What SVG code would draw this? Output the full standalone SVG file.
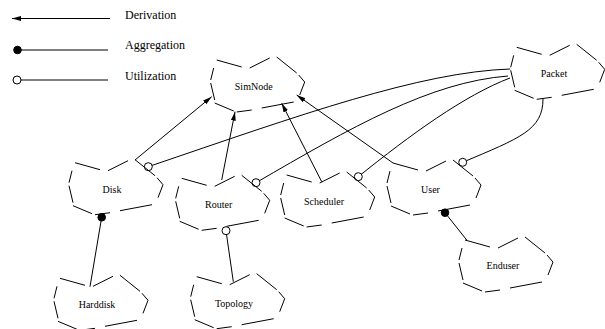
<svg xmlns="http://www.w3.org/2000/svg" width="605" height="329" viewBox="0 0 605 329">
<style>
.cloud{fill:none;stroke:#000;stroke-width:1}
.edge{fill:none;stroke:#000;stroke-width:1}
.open{fill:#fff;stroke:#000;stroke-width:1}
.dot{fill:#000;stroke:#000;stroke-width:1}
.lbl{font-family:"Liberation Serif","Times New Roman",serif;font-size:10px;text-anchor:middle;fill:#000}
.leg{font-family:"Liberation Serif","Times New Roman",serif;font-size:12px;fill:#000}
</style>
<defs>
<path id="cloud" class="cloud" d="M0,0 L25,7 M33,8 L53,-2 M60,-3 L80,13 M82,15 L88,22 L83,35 M77,42 L45,48 M35,50 L20,52 M17,51 L-2,43 M-3,8 L-6,20 M-6,23 L-2,40"/>
<marker id="arr" markerUnits="userSpaceOnUse" markerWidth="10" markerHeight="6" refX="9" refY="2.5" orient="auto">
<path d="M0,0 L9,2.5 L0,5 z" fill="#000"/>
</marker>
</defs>
<g id="legend">
<line class="edge" x1="110" y1="18.5" x2="12" y2="18.5" marker-end="url(#arr)"/>
<text class="leg" x="125" y="19">Derivation</text>
<line class="edge" x1="17" y1="50" x2="108" y2="50"/>
<circle class="dot" cx="17.5" cy="50" r="3.8"/>
<text class="leg" x="125" y="49">Aggregation</text>
<line class="edge" x1="17" y1="80" x2="108" y2="80"/>
<circle class="open" cx="17" cy="80" r="4"/>
<text class="leg" x="125" y="80">Utilization</text>
</g>
<g id="connectors">
<line class="edge" x1="135" y1="160" x2="211.7" y2="96.7" marker-end="url(#arr)"/>
<line class="edge" x1="221.7" y1="180" x2="235" y2="111.7" marker-end="url(#arr)"/>
<line class="edge" x1="321.7" y1="181.7" x2="281.7" y2="103.3" marker-end="url(#arr)"/>
<line class="edge" x1="393" y1="163" x2="296.7" y2="95" marker-end="url(#arr)"/>
<path class="edge" d="M148.3,166.7 C300,115 420,72 510,69"/>
<path class="edge" d="M256,182.7 C350,128 430,82 508,76"/>
<path class="edge" d="M358.3,176.7 C410,135 465,95 510,78"/>
<path class="edge" d="M462.7,162.3 C520,138 543,130 543,99"/>
<line class="edge" x1="226" y1="230.7" x2="233.3" y2="281.7"/>
<line class="edge" x1="101.7" y1="217.3" x2="90" y2="286.7"/>
<line class="edge" x1="445" y1="212.7" x2="466.7" y2="240"/>
<circle class="open" cx="148.3" cy="166.7" r="4"/>
<circle class="open" cx="256" cy="182.7" r="4"/>
<circle class="open" cx="358.3" cy="176.7" r="4"/>
<circle class="open" cx="462.7" cy="162.3" r="4"/>
<circle class="open" cx="226" cy="230.7" r="4"/>
<circle class="dot" cx="101.7" cy="217.3" r="3.8"/>
<circle class="dot" cx="445" cy="212.7" r="3.8"/>
</g>
<g id="simnode"><use href="#cloud" transform="translate(216.7,60)"/><text class="lbl" x="253.7" y="90">SimNode</text></g>
<g id="packet"><use href="#cloud" transform="translate(516.7,47.3)"/><text class="lbl" x="554" y="77">Packet</text></g>
<g id="disk"><use href="#cloud" transform="translate(75,162.7)"/><text class="lbl" x="112" y="192.7">Disk</text></g>
<g id="router"><use href="#cloud" transform="translate(181.7,178.3)"/><text class="lbl" x="218.7" y="208.3">Router</text></g>
<g id="scheduler"><use href="#cloud" transform="translate(286.7,175)"/><text class="lbl" x="324" y="205">Scheduler</text></g>
<g id="user"><use href="#cloud" transform="translate(393,163)"/><text class="lbl" x="430.5" y="193">User</text></g>
<g id="enduser"><use href="#cloud" transform="translate(465,240)"/><text class="lbl" x="503" y="269">Enduser</text></g>
<g id="topology"><use href="#cloud" transform="translate(196.7,276.7)"/><text class="lbl" x="234" y="306.5">Topology</text></g>
<g id="harddisk"><use href="#cloud" transform="translate(60,278.3)"/><text class="lbl" x="97" y="308.3">Harddisk</text></g>
</svg>
